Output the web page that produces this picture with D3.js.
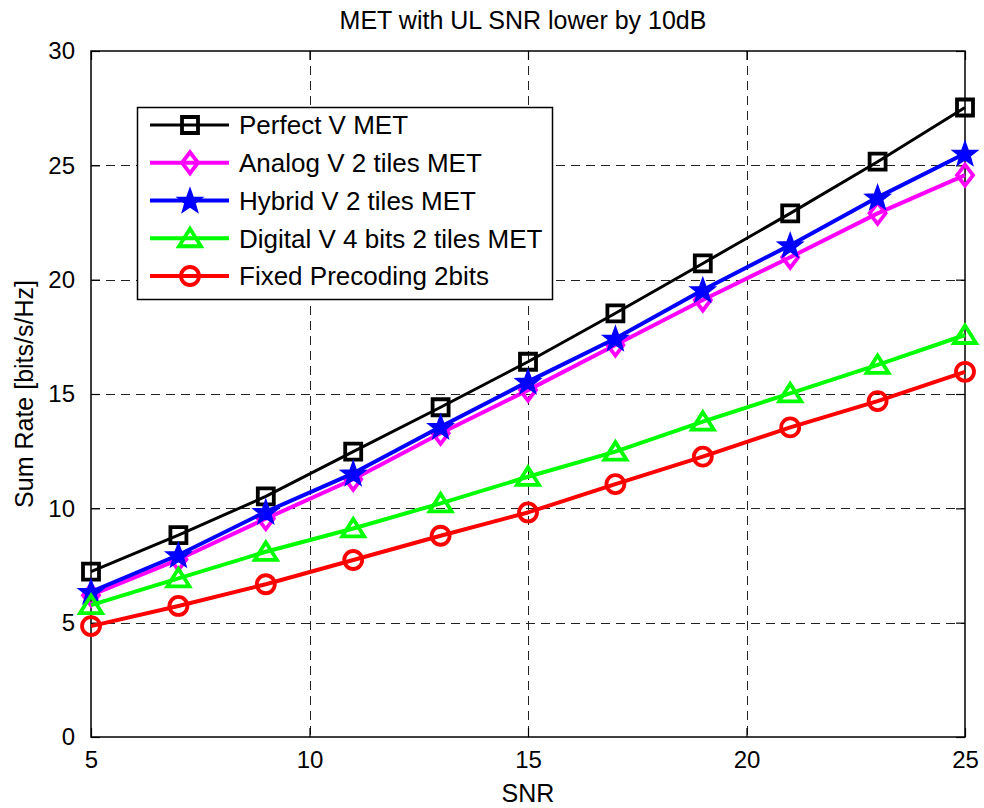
<!DOCTYPE html>
<html><head><meta charset="utf-8">
<script src="https://cdn.jsdelivr.net/npm/d3@7"></script>
<style>body{margin:0;background:#fff}svg text{font-family:"Liberation Sans",Arial,sans-serif;fill:#000}</style>
</head><body>
<svg id="c" width="984" height="808"></svg>
<script>
// ---- data ----
const snr = [5, 7, 9, 11, 13, 15, 17, 19, 21, 23, 25];
const perfectV = [7.23, 8.83, 10.52, 12.48, 14.42, 16.41, 18.53, 20.71, 22.90, 25.16, 27.53];
const analogV  = [6.20, 7.76, 9.55, 11.27, 13.28, 15.17, 17.14, 19.11, 20.98, 22.90, 24.57];
const hybridV  = [6.35, 7.96, 9.85, 11.53, 13.57, 15.54, 17.43, 19.55, 21.51, 23.60, 25.52];
const digitalV = [5.77, 6.94, 8.10, 9.12, 10.22, 11.38, 12.48, 13.79, 15.03, 16.27, 17.58];
const fixedPre = [4.85, 5.73, 6.68, 7.74, 8.80, 9.82, 11.06, 12.26, 13.54, 14.69, 15.97];
const seriesNames = ["Perfect V MET", "Analog V 2 tiles MET", "Hybrid V 2 tiles MET",
                     "Digital V 4 bits 2 tiles MET", "Fixed Precoding 2bits"];
const xTicks = [5, 10, 15, 20, 25];
const yTicks = [0, 5, 10, 15, 20, 25, 30];
const titleText = "MET with UL SNR lower by 10dB";
const xLabel = "SNR";
const yLabel = "Sum Rate [bits/s/Hz]";

// ---- styles ----
const series = [
  {name: seriesNames[0], values: perfectV, color: "#000000", marker: "square", lw: 3},
  {name: seriesNames[1], values: analogV,  color: "#ff00ff", marker: "diamond", lw: 4},
  {name: seriesNames[2], values: hybridV,  color: "#0000ff", marker: "star", lw: 4},
  {name: seriesNames[3], values: digitalV, color: "#00ff00", marker: "triangle", lw: 4},
  {name: seriesNames[4], values: fixedPre, color: "#ff0000", marker: "circle", lw: 4}
];

const L = 91, R = 965, T = 51, B = 737;
const svg = d3.select("#c");
const x = d3.scaleLinear().domain([5, 25]).range([L, R]);
const y = d3.scaleLinear().domain([0, 30]).range([B, T]);

// grid
const grid = svg.append("g").attr("stroke", "#222").attr("stroke-width", 1).attr("stroke-dasharray", "9,6").attr("shape-rendering", "crispEdges");
grid.selectAll(".gx").data(xTicks.slice(1, -1)).join("line")
  .attr("x1", d => Math.round(x(d)) + 0.5).attr("x2", d => Math.round(x(d)) + 0.5).attr("y1", T).attr("y2", B);
grid.selectAll(".gy").data(yTicks.slice(1, -1)).join("line")
  .attr("y1", d => Math.round(y(d)) + 0.5).attr("y2", d => Math.round(y(d)) + 0.5).attr("x1", L).attr("x2", R);

// axes
const fs = 24;
const ax = svg.append("g").attr("transform", `translate(0,${B})`)
  .call(d3.axisBottom(x).tickValues(xTicks).tickSizeInner(-9).tickSizeOuter(0).tickPadding(14));
const ay = svg.append("g").attr("transform", `translate(${L},0)`)
  .call(d3.axisLeft(y).tickValues(yTicks).tickSizeInner(-9).tickSizeOuter(0).tickPadding(16));
const axT = svg.append("g").attr("transform", `translate(0,${T})`)
  .call(d3.axisTop(x).tickValues(xTicks).tickSizeInner(-9).tickSizeOuter(0).tickFormat(""));
const axR = svg.append("g").attr("transform", `translate(${R},0)`)
  .call(d3.axisRight(y).tickValues(yTicks).tickSizeInner(-9).tickSizeOuter(0).tickFormat(""));
[ax, ay, axT, axR].forEach(g => {
  g.selectAll("path.domain").remove();
  g.selectAll("line").attr("stroke", "#000").attr("stroke-width", 1.2);
  g.selectAll("text").style("font-size", fs + "px").attr("fill", "#000");
});
svg.append("rect").attr("x", L).attr("y", T).attr("width", R - L).attr("height", B - T)
  .attr("fill", "none").attr("stroke", "#000").attr("stroke-width", 1.5);

// markers
function markerPath(type) {
  if (type === "square") return "M-8,-8H8V8H-8Z";
  if (type === "diamond") return "M0,-10.5L8,0L0,10.5L-8,0Z";
  if (type === "triangle") return "M0,-9.5L11,8L-11,8Z";
  if (type === "circle") return d3.arc()({innerRadius: 0, outerRadius: 9, startAngle: 0, endAngle: 2 * Math.PI});
  if (type === "star") {
    const pts = [];
    for (let i = 0; i < 10; i++) {
      const r = i % 2 === 0 ? 13 : 5.3;
      const a = -Math.PI / 2 + i * Math.PI / 5;
      pts.push([r * Math.cos(a), r * Math.sin(a) + 1]);
    }
    return "M" + pts.map(p => p.join(",")).join("L") + "Z";
  }
}

const line = d3.line().x((d, i) => x(snr[i])).y(d => y(d));
const plot = svg.append("g");
series.forEach(s => {
  const g = plot.append("g");
  g.append("path").attr("d", line(s.values)).attr("fill", "none").attr("stroke", s.color)
    .attr("stroke-width", s.lw).attr("stroke-linejoin", "round");
  g.selectAll("path.m").data(s.values).join("path").attr("class", "m")
    .attr("transform", (d, i) => `translate(${x(snr[i])},${y(d)})`)
    .attr("d", markerPath(s.marker))
    .attr("fill", s.marker === "star" ? s.color : "none")
    .attr("stroke", s.color).attr("stroke-width", s.marker === "star" ? 1.5 : 3.8)
    .attr("stroke-linejoin", "miter");
});

// legend
const lg = svg.append("g");
lg.append("rect").attr("x", 137.5).attr("y", 107.5).attr("width", 415).attr("height", 192)
  .attr("fill", "#fff").attr("stroke", "#000").attr("stroke-width", 1.5);
const rowY = d3.scalePoint().domain(seriesNames).range([125, 276]);
series.forEach(s => {
  const yy = rowY(s.name);
  lg.append("line").attr("x1", 150).attr("x2", 229).attr("y1", yy).attr("y2", yy)
    .attr("stroke", s.color).attr("stroke-width", s.lw);
  lg.append("path").attr("transform", `translate(190,${yy})`).attr("d", markerPath(s.marker))
    .attr("fill", s.marker === "star" ? s.color : "none").attr("stroke", s.color)
    .attr("stroke-width", s.marker === "star" ? 1.5 : 3.8);
  lg.append("text").attr("x", 239).attr("y", yy).attr("dy", "0.36em")
    .style("font-size", "26px").text(s.name);
});

// titles
svg.append("text").attr("x", (L + R) / 2 - 5).attr("y", 29).attr("text-anchor", "middle")
  .style("font-size", "25px").text(titleText);
svg.append("text").attr("x", (L + R) / 2).attr("y", 802).attr("text-anchor", "middle")
  .style("font-size", "25px").text(xLabel);
svg.append("text").attr("transform", `translate(33,${(T + B) / 2}) rotate(-90)`)
  .attr("text-anchor", "middle").style("font-size", "25px").text(yLabel);
</script>
</body></html>
